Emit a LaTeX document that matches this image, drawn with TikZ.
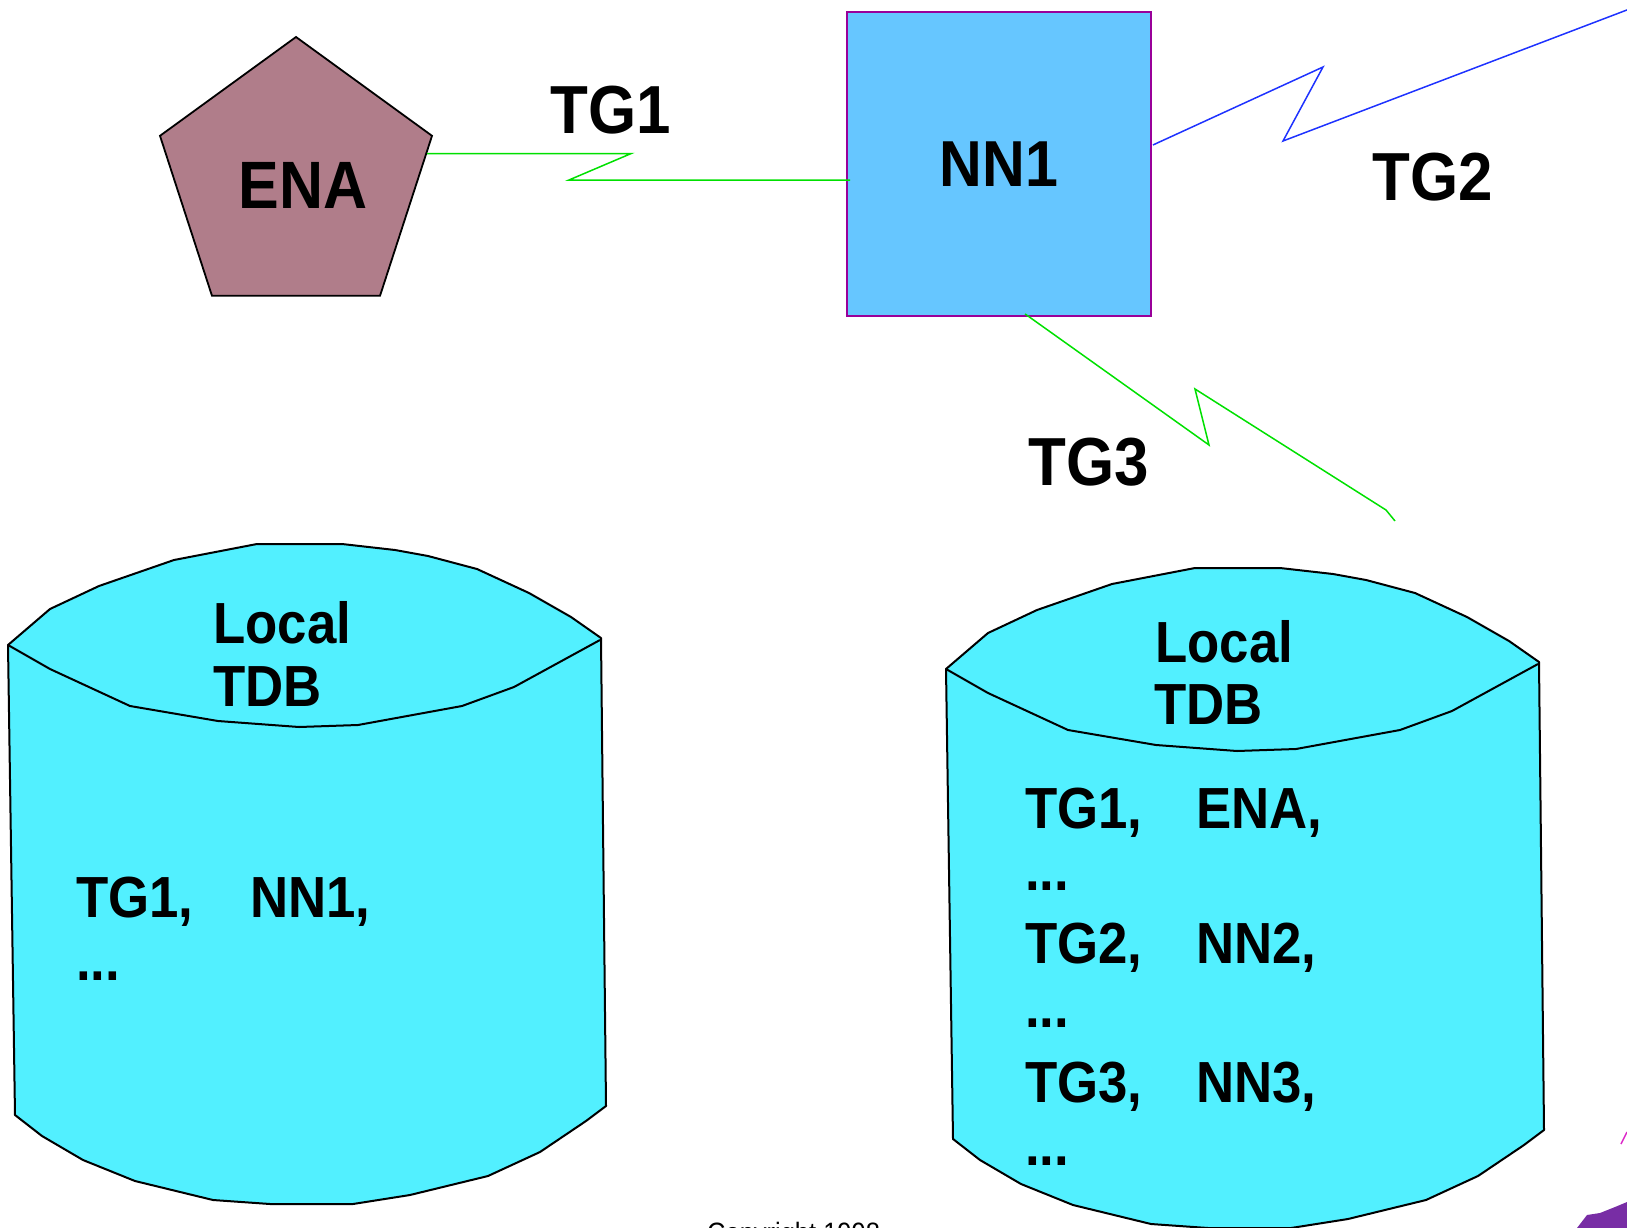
\documentclass[tikz,border=0pt]{standalone}
\usepackage{fontspec}
\setmainfont{Liberation Sans}[FakeStretch=0.91]
\usetikzlibrary{shapes.geometric,calc}

\definecolor{enafill}{RGB}{176,125,138}
\definecolor{nnfill}{RGB}{102,198,255}
\definecolor{nnborder}{RGB}{153,0,153}
\definecolor{tdbfill}{RGB}{82,240,255}
\definecolor{linkgreen}{RGB}{0,224,0}
\definecolor{linkblue}{RGB}{30,50,255}
\definecolor{logopurple}{RGB}{120,45,165}
\definecolor{logopink}{RGB}{220,40,200}

\tikzset{
  lbl/.style={anchor=base west, inner sep=0pt, font=\fontsize{68}{80}\selectfont\bfseries},
  tdbtxt/.style={anchor=base west, inner sep=0pt, font=\fontsize{58}{63}\selectfont\bfseries},
  tglink/.style={line width=1.5pt, draw=linkgreen},
  tg2link/.style={line width=1.5pt, draw=linkblue},
  tdb/.pic={
    \filldraw[fill=tdbfill, draw=black, line width=2pt, line join=round]
      (8,645) -- (50,609) -- (99,586) -- (174,560) -- (257,544) -- (342,544) -- (395,550) -- (428,556)
      -- (477,569) -- (529,593) -- (571,617) -- (601,638) -- (606,1106) -- (586,1121) -- (540,1152)
      -- (488,1176) -- (410,1195) -- (353,1204) -- (270,1204) -- (213,1200) -- (135,1181) -- (83,1160)
      -- (42,1136) -- (15,1115) -- cycle;
    \draw[line width=2pt, line join=round]
      (8,645) -- (50,669) -- (130,706) -- (218,721) -- (299,727) -- (358,725) -- (462,706) -- (514,687) -- (600,640);
  }
}

\begin{document}
\begin{tikzpicture}[x=1pt, y=-1pt]
\useasboundingbox (0,0) rectangle (1627,1228);
\clip (0,0) rectangle (1627,1228);

% the two local topology databases
\pic at (0,0) {tdb};
\pic at (938,24) {tdb};

\node[shape=regular polygon, regular polygon sides=5, minimum size=286pt, inner sep=0pt, fill=enafill, draw=black, line width=1.8pt, text height=57pt, text depth=0pt, font=\fontsize{67}{70}\selectfont\bfseries] (ENA) at (296,180) {\hspace{14pt}ENA};
\node[shape=rectangle, minimum width=304pt, minimum height=304pt, fill=nnfill, draw=nnborder, line width=1.8pt, font=\fontsize{65}{70}\selectfont\bfseries] (NN1) at (999,164) {NN1};

% transmission groups
\coordinate (tg1s) at ($(ENA.corner 5)!0.1125!(ENA.corner 4)$);
\coordinate (tg1a) at (631,154);
\coordinate (tg1b) at (569,180);
\draw[tglink] (tg1s) -- (tg1s -| tg1a) -- (tg1b) -- ($(tg1b -| NN1.west)+(4,0)$);

\coordinate (tg2a) at (1323,67);
\coordinate (tg2b) at (1283,141);
\coordinate (tg2end) at (1640,5);
\draw[tg2link] ($(NN1.east)+(1,-19)$) -- (tg2a) -- (tg2b) -- (tg2end);

\coordinate (tg3a) at (1209,445);
\coordinate (tg3b) at (1195,389);
\coordinate (tg3c) at (1386,510);
\coordinate (tg3end) at (1395,521);
\draw[tglink] ($(NN1.south)+(26,-3)$) -- (tg3a) -- (tg3b) -- (tg3c) -- (tg3end);

\node[lbl] (TG1) at (550,133) {TG1};
\node[lbl] (TG2) at (1372,200) {TG2};
\node[lbl] (TG3) at (1028,485) {TG3};

% left database
\node[tdbtxt] (localL) at (213,643) {Local};
\node[tdbtxt] (tdbL) at (213,706) {TDB};
\node[tdbtxt] (tg1L) at (76,917) {TG1,};
\node[tdbtxt] (nn1L) at (250,917) {NN1,};
\node[tdbtxt] (dotsL) at (76,980) {...};

% right database
\node[tdbtxt] (localR) at (1155,662) {Local};
\node[tdbtxt] (tdbR) at (1154,724) {TDB};
\node[tdbtxt] (tg1R) at (1025,828) {TG1,};
\node[tdbtxt] (enaR) at (1196,828) {ENA,};
\node[tdbtxt] (dotsRa) at (1025,890) {...};
\node[tdbtxt] (tg2R) at (1025,963) {TG2,};
\node[tdbtxt] (nn2R) at (1196,963) {NN2,};
\node[tdbtxt] (dotsRb) at (1025,1027) {...};
\node[tdbtxt] (tg3R) at (1025,1102) {TG3,};
\node[tdbtxt] (nn3R) at (1196,1102) {NN3,};
\node[tdbtxt] (dotsRc) at (1025,1165) {...};

\node[anchor=base west, inner sep=0pt, font=\fontsize{28}{30}\selectfont] (copy) at (707,1242) {Copyright 1998};

% logo corner
\fill[logopurple] (1577,1228) -- (1587,1215) -- (1600,1213) -- (1615,1207) -- (1627,1202) -- (1627,1228) -- cycle;
\draw[logopink, line width=1.5pt] (1621,1144) -- (1627,1132);
\end{tikzpicture}
\end{document}
